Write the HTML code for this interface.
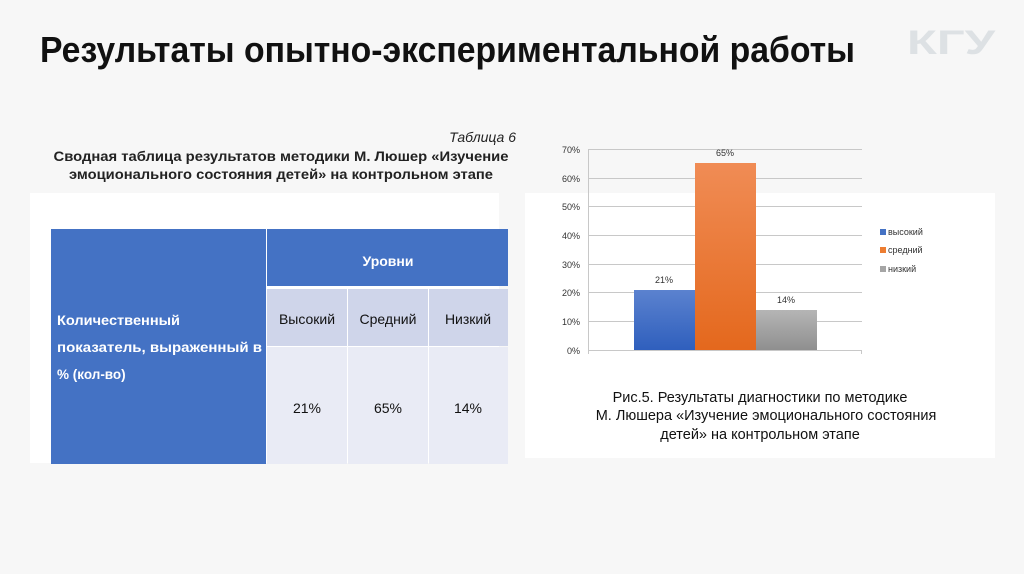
<!DOCTYPE html>
<html><head><meta charset="utf-8"><style>
html,body{margin:0;padding:0;background:#f7f7f7;}
svg{display:block;font-family:"Liberation Sans","DejaVu Sans",sans-serif;}
</style></head><body>
<svg width="1024" height="574" viewBox="0 0 1024 574" xmlns="http://www.w3.org/2000/svg">
<defs>
<linearGradient id="gb" x1="0" y1="0" x2="0" y2="1"><stop offset="0" stop-color="#5b82cf"/><stop offset="1" stop-color="#2f5fbd"/></linearGradient>
<linearGradient id="go" x1="0" y1="0" x2="0" y2="1"><stop offset="0" stop-color="#f08c55"/><stop offset="1" stop-color="#e4681d"/></linearGradient>
<linearGradient id="gg" x1="0" y1="0" x2="0" y2="1"><stop offset="0" stop-color="#b5b5b5"/><stop offset="1" stop-color="#8f8f8f"/></linearGradient>
</defs>
<rect width="1024" height="574" fill="#f7f7f7"/>
<text x="40" y="62" font-size="36" font-weight="bold" fill="#111" textLength="815" lengthAdjust="spacingAndGlyphs">Результаты опытно-экспериментальной работы</text>
<text x="907" y="54" font-size="34" font-weight="bold" fill="#dde1e4" textLength="88" lengthAdjust="spacingAndGlyphs">КГУ</text>

<text x="516" y="142" font-size="14" font-style="italic" fill="#222" text-anchor="end">Таблица 6</text>
<text x="281" y="161" font-size="14" font-weight="bold" fill="#222" text-anchor="middle" textLength="455" lengthAdjust="spacingAndGlyphs">Сводная таблица результатов методики М. Люшер «Изучение</text>
<text x="281" y="179" font-size="14" font-weight="bold" fill="#222" text-anchor="middle" textLength="424" lengthAdjust="spacingAndGlyphs">эмоционального состояния детей» на контрольном этапе</text>

<rect x="30" y="193" width="469" height="270" fill="#fff"/>
<rect x="51" y="229" width="215" height="235" fill="#4472c4"/>
<rect x="267" y="229" width="241" height="57" fill="#4472c4"/>
<rect x="267" y="289" width="80" height="57" fill="#cfd5ea"/>
<rect x="348" y="289" width="80" height="57" fill="#cfd5ea"/>
<rect x="429" y="289" width="79" height="57" fill="#cfd5ea"/>
<rect x="267" y="347" width="80" height="117" fill="#e9ebf5"/>
<rect x="348" y="347" width="80" height="117" fill="#e9ebf5"/>
<rect x="429" y="347" width="79" height="117" fill="#e9ebf5"/>
<text x="388" y="266" font-size="14" font-weight="bold" fill="#fff" text-anchor="middle">Уровни</text>
<text x="307" y="324" font-size="14" fill="#111" text-anchor="middle">Высокий</text>
<text x="388" y="324" font-size="14" fill="#111" text-anchor="middle">Средний</text>
<text x="468" y="324" font-size="14" fill="#111" text-anchor="middle">Низкий</text>
<text x="307" y="413" font-size="14" fill="#111" text-anchor="middle">21%</text>
<text x="388" y="413" font-size="14" fill="#111" text-anchor="middle">65%</text>
<text x="468" y="413" font-size="14" fill="#111" text-anchor="middle">14%</text>
<text x="57" y="325" font-size="13.5" font-weight="bold" fill="#fff" textLength="123" lengthAdjust="spacingAndGlyphs">Количественный</text>
<text x="57" y="352" font-size="13.5" font-weight="bold" fill="#fff" textLength="205" lengthAdjust="spacingAndGlyphs">показатель, выраженный в</text>
<text x="57" y="379" font-size="13.5" font-weight="bold" fill="#fff">% (кол-во)</text>

<rect x="525" y="193" width="470" height="265" fill="#fff"/>
<g stroke="#c8c8c8" stroke-width="1">
<line x1="588" y1="149.5" x2="862" y2="149.5"/>
<line x1="588" y1="178.5" x2="862" y2="178.5"/>
<line x1="588" y1="206.5" x2="862" y2="206.5"/>
<line x1="588" y1="235.5" x2="862" y2="235.5"/>
<line x1="588" y1="264.5" x2="862" y2="264.5"/>
<line x1="588" y1="292.5" x2="862" y2="292.5"/>
<line x1="588" y1="321.5" x2="862" y2="321.5"/>
<line x1="588" y1="350.5" x2="862" y2="350.5"/>
<line x1="588.5" y1="149" x2="588.5" y2="354"/>
<line x1="861.5" y1="350" x2="861.5" y2="354"/>
</g>
<g font-size="9" fill="#333" text-anchor="end">
<text x="580" y="153">70%</text><text x="580" y="182">60%</text><text x="580" y="210">50%</text>
<text x="580" y="239">40%</text><text x="580" y="268">30%</text><text x="580" y="296">20%</text>
<text x="580" y="325">10%</text><text x="580" y="354">0%</text>
</g>
<rect x="634" y="290" width="61" height="60" fill="url(#gb)"/>
<rect x="695" y="163" width="61" height="187" fill="url(#go)"/>
<rect x="756" y="310" width="61" height="40" fill="url(#gg)"/>
<g font-size="9" fill="#333" text-anchor="middle">
<text x="664" y="283">21%</text><text x="725" y="156">65%</text><text x="786" y="303">14%</text>
</g>
<rect x="880" y="229" width="6" height="6" fill="#4472c4"/>
<rect x="880" y="247" width="6" height="6" fill="#ed7d31"/>
<rect x="880" y="266" width="6" height="6" fill="#a5a5a5"/>
<g font-size="9" fill="#333">
<text x="888" y="235">высокий</text><text x="888" y="253">средний</text><text x="888" y="272">низкий</text>
</g>
<g font-size="14.5" fill="#111" text-anchor="middle">
<text x="760" y="402">Рис.5. Результаты диагностики по методике</text>
<text x="766" y="420">М. Люшера «Изучение эмоционального состояния</text>
<text x="760" y="439">детей» на контрольном этапе</text>
</g>
</svg>
</body></html>
